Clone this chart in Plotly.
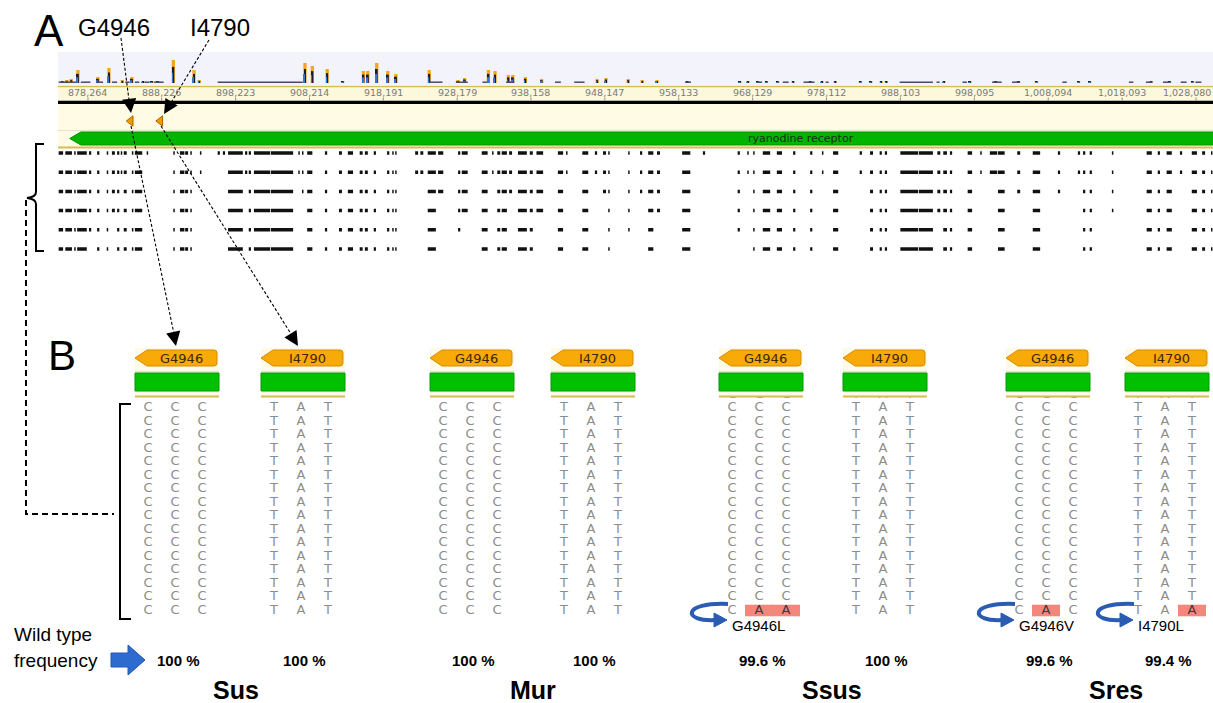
import plotly.graph_objects as go

W, H = 1213, 703

# ---------------- Panel A: genome browser view (positions in kb) ----------------
view_kb = (874.21, 1030.37)
ruler_kb = [878.264, 888.226, 898.223, 908.214, 918.191, 928.179, 938.158,
            948.147, 958.133, 968.129, 978.112, 988.103, 998.095, 1008.094,
            1018.093, 1028.080]
gene_name = "ryanodine receptor"
gene_kb = (875.8, 1031.5)
variant_names = ["G4946", "I4790"]
variant_kb = [884.05, 888.05]

coverage_kb = [874.8, 875.4, 876.0, 876.9, 879.6, 881.1, 882.9, 884.2, 885.7, 886.9,
               887.7, 889.8, 892.6, 893.3, 907.6, 908.6, 910.6, 912.7, 915.5, 916.1,
               917.3, 918.8, 919.9, 924.4, 928.3, 929.2, 932.4, 933.3, 935.1, 935.7,
               937.4, 939.6, 947.1, 948.3, 951.3, 953.2, 955.2, 959.3, 966.4, 967.5,
               968.8, 970.0, 971.5, 973.6, 975.9, 977.5, 979.3, 982.7, 984.1, 985.5,
               986.2, 994.0, 997.5, 1001.0, 1004.1, 1006.5, 1012.2, 1013.7, 1022.0,
               1024.5, 1027.6]
coverage_depth = [2, 3, 4, 13, 6, 15, 3, 6, 2, 2,
                  2, 23, 13, 3, 20, 17, 14, 2, 12, 12,
                  20, 12, 9, 13, 3, 5, 13, 12, 8, 8,
                  6, 4, 4, 5, 4, 3, 3, 2, 2, 2,
                  2, 2, 2, 2, 2, 2, 2, 2, 2, 2,
                  2, 2, 2, 2, 2, 2, 2, 2, 2,
                  2, 2]
low_coverage_runs_kb = [(874.3, 876.7), (877.3, 878.6), (879.4, 880.3), (881.5, 882.2),
                        (883.3, 883.9), (884.6, 885.2), (885.9, 886.6), (887.2, 888.5),
                        (895.8, 907.3), (924.4, 926.2), (928.0, 929.6), (931.6, 932.2),
                        (934.8, 935.9), (941.4, 942.2), (944.0, 945.4), (959.0, 959.8),
                        (968.8, 969.4), (972.2, 973.0), (975.0, 976.5), (978.0, 978.4),
                        (988.0, 992.5), (993.0, 993.4), (996.5, 997.1), (1000.5, 1001.8),
                        (1003.2, 1004.2), (1010.0, 1010.6), (1019.0, 1019.6),
                        (1021.3, 1022.2), (1023.6, 1024.4), (1026.0, 1026.8), (1028.0, 1028.8)]

# aligned read blocks (start, end) in kb, numbered from 1
read_blocks_kb = [
    (874.3, 874.9), (875.2, 876.1), (876.4, 876.6), (876.8, 878.1), (878.4, 878.7),
    (879.5, 879.8), (880.8, 881.0), (881.5, 881.9), (882.2, 882.5), (882.7, 882.9),
    (883.1, 883.5), (884.2, 884.4), (884.6, 885.6), (886.2, 886.4), (889.8, 890.0),
    (890.7, 891.3), (891.4, 891.8), (892.1, 892.3), (893.4, 893.6), (895.8, 896.1),
    (896.5, 896.8), (897.2, 899.2), (899.5, 899.8), (900.0, 900.3), (900.7, 902.9),
    (903.0, 906.0), (906.7, 906.8), (907.2, 907.3), (907.9, 908.6), (910.3, 910.6),
    (912.2, 912.6), (913.4, 914.1), (915.0, 915.4), (915.7, 916.1), (916.9, 917.2),
    (918.7, 919.0), (919.4, 919.5), (919.8, 920.0), (922.5, 922.9), (923.2, 923.6),
    (924.2, 925.3), (925.6, 926.3), (928.3, 928.6), (928.8, 929.6), (931.5, 932.3),
    (932.9, 933.0), (933.6, 934.0), (934.2, 934.9), (935.2, 935.6), (936.4, 937.6),
    (938.0, 938.4), (938.9, 939.8), (941.8, 942.5), (942.9, 943.0), (945.1, 945.9),
    (946.8, 947.1), (947.9, 948.3), (948.6, 948.8), (951.3, 951.5), (952.9, 953.2),
    (954.0, 954.7), (955.2, 955.6), (958.6, 959.7), (961.4, 961.7), (966.1, 966.4),
    (967.4, 967.5), (968.2, 968.4), (969.5, 970.5), (971.4, 972.1), (973.6, 973.9),
    (975.9, 976.2), (977.5, 977.6), (979.0, 979.7), (982.6, 982.9), (984.0, 984.4),
    (985.3, 985.6), (986.0, 986.3), (988.1, 990.5), (990.6, 992.5), (993.1, 993.5),
    (993.9, 994.4), (994.8, 995.1), (997.2, 997.8), (998.9, 999.1), (1000.2, 1001.2),
    (1001.3, 1002.2), (1003.9, 1004.3), (1006.0, 1007.0), (1009.4, 1009.7), (1012.1, 1012.4),
    (1012.8, 1013.1), (1013.7, 1014.0), (1016.7, 1016.8), (1021.4, 1022.1), (1022.9, 1023.2),
    (1024.1, 1024.8), (1025.9, 1026.2), (1027.5, 1028.2), (1028.9, 1029.3), (1030.1, 1030.2),
]
# blocks without reads in each of the six samples
sample_gaps = [
    [],
    [14, 20, 21, 64],
    [10, 14, 19, 20, 21, 23, 27, 39, 40, 46, 54, 56, 64, 66, 72, 74, 84, 85, 90, 97],
    [10, 14, 19, 20, 21, 23, 27, 28, 39, 40, 42, 46, 49, 54, 56, 57, 60, 64, 66, 72,
     74, 84, 85, 87, 89, 90, 97],
    [8, 10, 14, 19, 20, 21, 23, 27, 28, 39, 40, 42, 44, 46, 49, 52, 54, 56, 57, 60,
     62, 64, 66, 72, 74, 80, 84, 85, 87, 89, 90, 93, 97],
    [5, 8, 10, 14, 19, 20, 21, 23, 27, 28, 39, 40, 42, 43, 44, 46, 49, 52, 54, 56,
     57, 59, 60, 62, 64, 65, 66, 72, 74, 80, 84, 85, 87, 89, 90, 93, 97],
]

# ---------------- Panel B: codons at the two target sites ----------------
populations = ["Sus", "Mur", "Ssus", "Sres"]
sites = ["G4946", "I4790"]
reference_codon = ["CCC", "TAT"]
reads_shown = [[16, 16], [16, 16], [17, 17], [17, 17]]
mutant_codon = [[None, None], [None, None], ["CAA", None], ["CAC", "TAA"]]
mutation_name = [[None, None], [None, None], ["G4946L", None], ["G4946V", "I4790L"]]
wild_type_freq = [[100, 100], [100, 100], [99.6, 100], [99.6, 99.4]]

# ---------------- layout geometry (pixels) ----------------
TRACK_X0 = 58
tag_left = [[135, 261], [430, 551], [719, 843], [1006, 1125]]
TAG_W = 82
COL_OFF = [13, 40, 67]
ROW0_Y, ROW_DY = 408, 13.5
pop_label_x = [236, 533, 832, 1116]

SANS = "Liberation Sans"
MONO_LIKE = "DejaVu Sans"

shapes, annotations, traces = [], [], []


def rect(x0, y0, x1, y1, fill, line=None, lw=0, layer="below", xref="x", yref="y"):
    shapes.append(dict(type="rect", xref=xref, yref=yref, x0=x0, y0=y0, x1=x1, y1=y1,
                       fillcolor=fill, line=dict(color=line or fill, width=lw), layer=layer))


def seg(x0, y0, x1, y1, color, width, dash="solid", layer="above", xref="x", yref="y"):
    shapes.append(dict(type="line", xref=xref, yref=yref, x0=x0, y0=y0, x1=x1, y1=y1,
                       line=dict(color=color, width=width, dash=dash), layer=layer))


def path(d, fill=None, line="black", width=1, dash="solid", layer="above", xref="x", yref="y"):
    shapes.append(dict(type="path", path=d, xref=xref, yref=yref,
                       fillcolor=fill or "rgba(0,0,0,0)",
                       line=dict(color=line, width=width, dash=dash), layer=layer))


def text(x, y, s, size, color="black", family=SANS, bold=False, xanchor="center",
         xref="x", yref="y"):
    annotations.append(dict(x=x, y=y, xref=xref, yref=yref,
                            text=f"<b>{s}</b>" if bold else s, showarrow=False,
                            font=dict(size=size, color=color, family=family),
                            xanchor=xanchor, yanchor="middle"))


def arrow_head(x, y, ax, ay):
    annotations.append(dict(x=x, y=y, xref="x", yref="y", ax=ax, ay=ay, text="",
                            showarrow=True, arrowhead=2, arrowsize=2.6, arrowwidth=1.1,
                            arrowcolor="black", standoff=0))


# ---------- Panel A ----------
text(49, 30, "A", 44)
text(114, 27, variant_names[0], 24)
text(220, 27, variant_names[1], 24)

rect(TRACK_X0, 52, W, 85, "#f3f3fb")
rect(TRACK_X0, 86, W, 101, "#fcf8dc")
seg(TRACK_X0, 86.5, W, 86.5, "#d7bc52", 1.5, layer="below")
seg(TRACK_X0, 102.5, W, 102.5, "black", 3.5, layer="below")
rect(TRACK_X0, 104, W, 147, "#fffbe4")
seg(TRACK_X0, 130.5, W, 130.5, "#e4e1cc", 1, layer="below")
seg(TRACK_X0, 147.5, W, 147.5, "#d7bc52", 2, layer="below")

g0, g1 = gene_kb
path(f"M {g0},138.5 L {g0 + 1.5},132 L {g1},132 L {g1},145 L {g0 + 1.5},145 Z",
     fill="#00b400", line="#009200", width=1, layer="below", xref="x2")
text((view_kb[0] + view_kb[1]) / 2 + 22.4, 138.5, gene_name, 11, color="#163016",
     family=MONO_LIKE, xref="x2")

for k in ruler_kb:
    lab = f"{int(round(k * 1000)):,}"
    if k > view_kb[1] - 4:
        # keep the last label inside the track
        text(view_kb[1], 92.5, lab, 9.5, color="#7a7a7a", family=MONO_LIKE,
             xanchor="right", xref="x2")
    else:
        text(k, 92.5, lab, 9.5, color="#7a7a7a", family=MONO_LIKE, xref="x2")
tx, ty = [], []
for k in ruler_kb:
    tx += [k, k, None]
    ty += [97.5, 100.5, None]
traces.append(go.Scatter(x=tx, y=ty, mode="lines", line=dict(color="#8a8a8a", width=1),
                         xaxis="x2", yaxis="y", hoverinfo="skip"))

# coverage histogram
traces.append(go.Bar(x=coverage_kb, y=coverage_depth, width=0.45, xaxis="x2", yaxis="y2",
                     marker=dict(color="#f7a51c", line=dict(width=0)), hoverinfo="skip"))
traces.append(go.Bar(x=coverage_kb, y=[d * 0.7 for d in coverage_depth], width=0.26,
                     xaxis="x2", yaxis="y2", marker=dict(color="#1a1c33", line=dict(width=0)),
                     hoverinfo="skip"))
traces.append(go.Bar(x=[k - 0.1 for k in coverage_kb], y=[d * 0.45 for d in coverage_depth],
                     width=0.1, xaxis="x2", yaxis="y2",
                     marker=dict(color="#2f7ad0", line=dict(width=0)), hoverinfo="skip"))
lx, ly = [], []
for a, b in low_coverage_runs_kb:
    lx += [a, b, None]
    ly += [0.8, 0.8, None]
traces.append(go.Scatter(x=lx, y=ly, mode="lines", line=dict(color="#4a4a62", width=1.5),
                         xaxis="x2", yaxis="y2", hoverinfo="skip"))

# read blocks per sample
rx, ry = [], []
for r, gaps in enumerate(sample_gaps, start=1):
    for i, (a, b) in enumerate(read_blocks_kb, start=1):
        if i in gaps:
            continue
        rx += [a, max(b, a + 0.2), None]
        ry += [r, r, None]
traces.append(go.Scatter(x=rx, y=ry, mode="lines", line=dict(color="#111111", width=3.5),
                         xaxis="x2", yaxis="y3", hoverinfo="skip"))

# variant positions on the gene track
traces.append(go.Scatter(x=variant_kb, y=[121, 121], mode="markers", xaxis="x2", yaxis="y",
                         marker=dict(symbol="triangle-left", size=9, color="#f29a00",
                                     line=dict(color="#a86200", width=1)),
                         hoverinfo="skip"))

# sample bracket and link to panel B
path("M 44,144 L 36,144 L 36,192 Q 36,197 27,198 Q 36,199 36,204 L 36,251 L 44,251",
     line="black", width=2)
path("M 26,200 L 26,514 L 114,514", line="black", width=2, dash="6px,4px")

# dotted pointers from variant names to the track and to panel B
DOT = "3px,2px"
seg(121, 38, 129, 100, "black", 1.1, dash=DOT)
arrow_head(131, 113, -1.6, -12)
seg(131, 126, 174, 334, "black", 1.1, dash=DOT)
arrow_head(176, 346, -2.4, -12)
seg(209, 40, 172, 101, "black", 1.1, dash=DOT)
arrow_head(164, 114, 6.3, -10.2)
seg(161, 126, 291, 334, "black", 1.1, dash=DOT)
arrow_head(298, 346, -6.3, -10.2)

# ---------- Panel B ----------
text(62, 355, "B", 42)
path("M 131,404 L 120,404 L 120,619 L 131,619", line="black", width=2)

text(12, 634, "Wild type", 19, xanchor="left")
text(12, 660, "frequency", 19, xanchor="left")
path("M 111,653 L 128,653 L 128,645 L 145,660 L 128,675 L 128,667 L 111,667 Z",
     fill="#2e6bd1", line="#2458b0", width=1)

grey_x, grey_y, grey_t = [], [], []
dark_x, dark_y, dark_t = [], [], []
for p, pop in enumerate(populations):
    text(pop_label_x[p], 690, pop, 25, bold=True)
    for s, site in enumerate(sites):
        L = tag_left[p][s]
        R = L + TAG_W
        # header: cream band, site tag, gene bar
        rect(L, 348, R + 2, 396, "#fdfae8", layer="above")
        path(f"M {L},358 L {L + 12},350 L {R - 3},350 Q {R},350 {R},353 L {R},363 "
             f"Q {R},366 {R - 3},366 L {L + 12},366 Z",
             fill="#f7aa08", line="#d98b00", width=1)
        text(L + 46, 358, site, 13, color="#3b2600", family=MONO_LIKE)
        seg(L, 371.5, R + 2, 371.5, "#e6e2cc", 1)
        rect(L, 373, R + 2, 391, "#00c000", line="#009a00", lw=1, layer="above")
        seg(L, 396.5, R + 2, 396.5, "#d7bc52", 2)

        n = reads_shown[p][s]
        ref = reference_codon[s]
        mut = mutant_codon[p][s]
        for i in range(n):
            y = ROW0_Y + ROW_DY * (i - (n - 16))
            codon = mut if (mut and i == n - 1) else ref
            for c, base in enumerate(codon):
                x = L + COL_OFF[c]
                if mut and i == n - 1 and base != ref[c]:
                    rect(x - 14, y - 5.8, x + 14, y + 5.8, "#f3877c")
                    dark_x.append(x); dark_y.append(y); dark_t.append(base)
                else:
                    grey_x.append(x); grey_y.append(y); grey_t.append(base)
        if mutation_name[p][s]:
            c0 = L + COL_OFF[0]
            path(f"M {c0 - 4},604 C {c0 - 50},602 {c0 - 50},622 {c0 - 16},620",
                 line="#2a5cb3", width=4)
            path(f"M {c0 - 18},613 L {c0 - 5},620 L {c0 - 18},627 Z",
                 fill="#2a5cb3", line="#2a5cb3", width=1)
            text(c0 - 2, 625, mutation_name[p][s], 15, xanchor="left")
        f = wild_type_freq[p][s]
        text(L + 43, 660, f"{f:g} %", 15, bold=True)

traces.append(go.Scatter(x=grey_x, y=grey_y, text=grey_t, mode="text", xaxis="x", yaxis="y",
                         textfont=dict(family=MONO_LIKE, size=13, color="#8c8c8c"),
                         hoverinfo="skip", cliponaxis=False))
traces.append(go.Scatter(x=dark_x, y=dark_y, text=dark_t, mode="text", xaxis="x", yaxis="y",
                         textfont=dict(family=MONO_LIKE, size=13, color="#3a3a3a"),
                         hoverinfo="skip", cliponaxis=False))

fig = go.Figure(data=traces)
hidden = dict(visible=False, showgrid=False, zeroline=False, fixedrange=True)
fig.update_layout(
    width=W, height=H, autosize=False, showlegend=False, barmode="overlay",
    margin=dict(l=0, r=0, t=0, b=0),
    paper_bgcolor="white", plot_bgcolor="rgba(0,0,0,0)",
    xaxis=dict(range=[0, W], domain=[0, 1], anchor="y", **hidden),
    yaxis=dict(range=[H, 0], domain=[0, 1], anchor="x", **hidden),
    xaxis2=dict(range=list(view_kb), domain=[TRACK_X0 / W, 1], anchor="y2", **hidden),
    yaxis2=dict(range=[0, 31], domain=[1 - 83 / H, 1 - 52 / H], anchor="x2", **hidden),
    yaxis3=dict(range=[6.5, 0.5], domain=[1 - 258.6 / H, 1 - 143.4 / H], anchor="x2", **hidden),
    shapes=shapes, annotations=annotations,
)
fig.write_html("out.html")
